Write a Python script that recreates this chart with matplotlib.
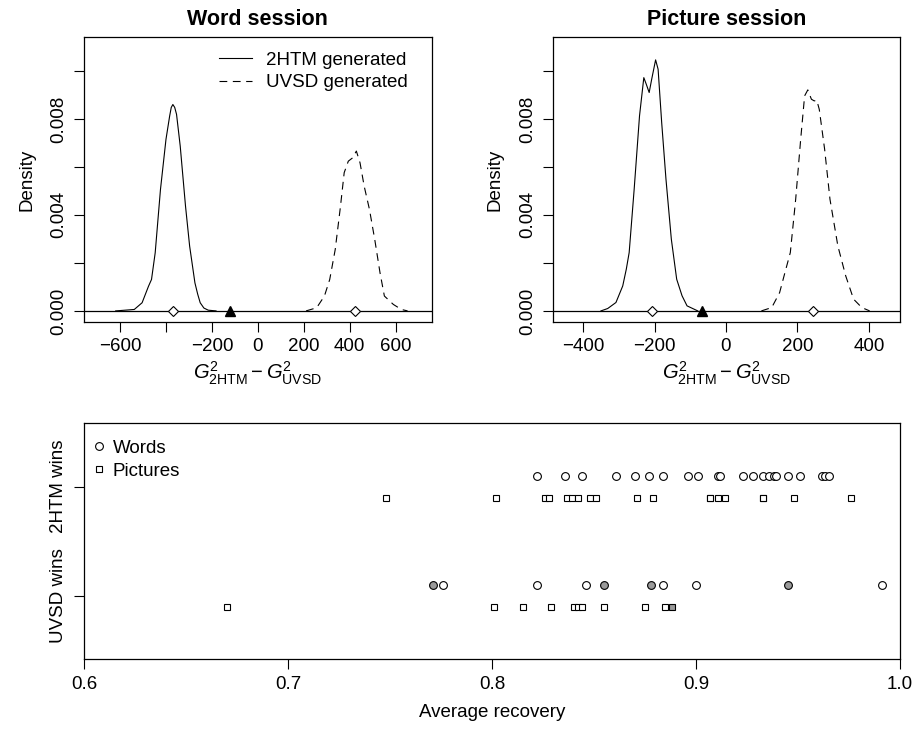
import numpy as np
import matplotlib.pyplot as plt

plt.rcParams['font.family'] = 'Liberation Sans'
plt.rcParams['mathtext.fontset'] = 'custom'
plt.rcParams['mathtext.rm'] = 'Liberation Sans'
plt.rcParams['mathtext.it'] = 'Liberation Sans:italic'
plt.rcParams['font.size'] = 13

# density curves (x = G2 difference, d = density)
word_2htm_x = [-619, -538, -504, -476, -463, -447, -424, -400, -384, -377, -370,
               -362, -354, -338, -315, -297, -274, -262, -251, -235, -216, -182]
word_2htm_d = [0, 0.00006, 0.00034, 0.00103, 0.00131, 0.00242, 0.00506, 0.00715,
               0.00812, 0.00848, 0.0086, 0.00848, 0.00819, 0.00687, 0.00437,
               0.0027, 0.00117, 0.0007, 0.00034, 0.00012, 0.00003, 0]
word_uvsd_x = [210, 256, 290, 313, 337, 360, 376, 394, 413, 429, 445, 463, 486,
               509, 532, 551, 590, 625, 652]
word_uvsd_d = [0, 0.00013, 0.00062, 0.00131, 0.00256, 0.00437, 0.00576, 0.00624,
               0.00638, 0.00666, 0.00617, 0.0052, 0.00423, 0.00298, 0.00159,
               0.00062, 0.00027, 0.00006, 0]
pic_2htm_x = [-350, -331, -308, -289, -279, -271, -257, -242, -230, -223, -215,
              -208, -197, -190, -180, -168, -153, -138, -123, -109, -79]
pic_2htm_d = [0, 0.0001, 0.00035, 0.00104, 0.00174, 0.00243, 0.00507, 0.00813,
              0.00972, 0.00944, 0.0091, 0.00965, 0.01046, 0.01007, 0.00785,
              0.00549, 0.00299, 0.00132, 0.00063, 0.00021, 0]
pic_uvsd_x = [99, 128, 150, 165, 180, 195, 209, 220, 229, 239, 247, 254, 261, 276,
              291, 313, 335, 357, 380, 402]
pic_uvsd_d = [0, 0.00014, 0.00076, 0.0016, 0.00243, 0.00465, 0.00715, 0.00896,
              0.00921, 0.00882, 0.00875, 0.00878, 0.0084, 0.00674, 0.00465,
              0.00271, 0.00146, 0.00049, 0.00014, 0]

word_means = [-370, 424]
word_observed = -122
pic_means = [-208, 244]
pic_observed = -67

# average recovery per participant
words_2htm = [0.822, 0.836, 0.844, 0.861, 0.870, 0.877, 0.884, 0.896, 0.901, 0.911,
              0.912, 0.923, 0.928, 0.933, 0.936, 0.938, 0.939, 0.945, 0.951, 0.962,
              0.963, 0.965]
pictures_2htm = [0.748, 0.802, 0.826, 0.828, 0.837, 0.839, 0.842, 0.848, 0.851,
                 0.871, 0.879, 0.907, 0.907, 0.911, 0.914, 0.933, 0.933, 0.948, 0.976]
words_uvsd_open = [0.776, 0.822, 0.846, 0.884, 0.900, 0.991]
words_uvsd_gray = [0.771, 0.855, 0.878, 0.945]
pictures_uvsd_open = [0.670, 0.801, 0.815, 0.829, 0.840, 0.842, 0.844, 0.855,
                      0.875, 0.885]
pictures_uvsd_gray = [0.888]


def r_style(ax):
    for s in ax.spines.values():
        s.set_linewidth(0.9)
    ax.tick_params(direction='out', length=7, width=0.8, pad=5, labelsize=13.5)


fig = plt.figure(figsize=(9.14, 7.36), dpi=100)
ax1 = fig.add_axes([0.0919, 0.5629, 0.3804, 0.3864])
ax2 = fig.add_axes([0.6047, 0.5629, 0.3800, 0.3864])
ax3 = fig.add_axes([0.0919, 0.1042, 0.8928, 0.3207])

xlab = r'$G^2_{\mathrm{2HTM}} - G^2_{\mathrm{UVSD}}$'
dash = (0, (7, 5))

panels = [
    (ax1, 'Word session', word_2htm_x, word_2htm_d, word_uvsd_x, word_uvsd_d,
     word_means, word_observed, (-757, 757), [-600, -400, -200, 0, 200, 400, 600],
     ['\u2212600', '', '\u2212200', '0', '200', '400', '600']),
    (ax2, 'Picture session', pic_2htm_x, pic_2htm_d, pic_uvsd_x, pic_uvsd_d,
     pic_means, pic_observed, (-485, 487), [-400, -200, 0, 200, 400],
     ['\u2212400', '\u2212200', '0', '200', '400']),
]

for ax, title, hx, hd, ux, ud, means, obs, xlim, xt, xtl in panels:
    ax.axhline(0, color='black', lw=0.9)
    ax.plot(hx, hd, color='black', lw=0.8, label='2HTM generated')
    ax.plot(ux, ud, color='black', lw=0.8, linestyle=dash, label='UVSD generated')
    ax.plot(means, [0, 0], 'D', ms=5, mfc='white', mec='black', mew=0.8)
    ax.plot([obs], [0], '^', ms=7, color='black')
    ax.set_xlim(*xlim)
    ax.set_ylim(-0.00045, 0.0114)
    ax.set_xticks(xt)
    ax.set_xticklabels(xtl)
    ax.set_yticks([0, 0.002, 0.004, 0.006, 0.008, 0.010])
    ax.set_yticklabels(['0.000', '', '0.004', '', '0.008', ''], rotation=90, va='center')
    r_style(ax)
    ax.set_title(title, fontweight='bold', fontsize=15.5, pad=9)
    ax.set_ylabel('Density', labelpad=11, fontsize=13.5)
    ax.set_xlabel(xlab, labelpad=3, fontsize=14.5)

ax1.legend(loc='upper right', bbox_to_anchor=(0.93, 0.95), frameon=False,
           handlelength=1.8, handletextpad=0.7, labelspacing=0.3,
           borderaxespad=0, borderpad=0, fontsize=13.5)

# recovery panel
circ = dict(marker='o', ms=5.6, mec='black', mew=0.8, linestyle='none')
sq = dict(marker='s', ms=5.0, mec='black', mew=0.8, linestyle='none')
ax3.plot(words_2htm, [1.1] * len(words_2htm), mfc='white', label='Words', **circ)
ax3.plot(pictures_2htm, [0.9] * len(pictures_2htm), mfc='white', label='Pictures', **sq)
ax3.plot(words_uvsd_open, [0.1] * len(words_uvsd_open), mfc='white', **circ)
ax3.plot(words_uvsd_gray, [0.1] * len(words_uvsd_gray), mfc='#9a9a9a', **circ)
ax3.plot(pictures_uvsd_open, [-0.1] * len(pictures_uvsd_open), mfc='white', **sq)
ax3.plot(pictures_uvsd_gray, [-0.1] * len(pictures_uvsd_gray), mfc='#9a9a9a', **sq)
ax3.set_xlim(0.6, 1.0)
ax3.set_ylim(-0.58, 1.58)
ax3.set_xticks([0.6, 0.7, 0.8, 0.9, 1.0])
ax3.set_xticklabels(['0.6', '0.7', '0.8', '0.9', '1.0'])
ax3.set_yticks([0, 1])
ax3.set_yticklabels(['UVSD wins', '2HTM wins'], rotation=90, va='center')
r_style(ax3)
ax3.set_xlabel('Average recovery', labelpad=8, fontsize=13.5)
ax3.legend(loc='upper left', bbox_to_anchor=(0.012, 0.93), frameon=False,
           handlelength=0.6, handletextpad=0.4, labelspacing=0.3,
           borderaxespad=0, borderpad=0, fontsize=13.5, markerscale=1.0)

fig.savefig('out.png', dpi=100)
